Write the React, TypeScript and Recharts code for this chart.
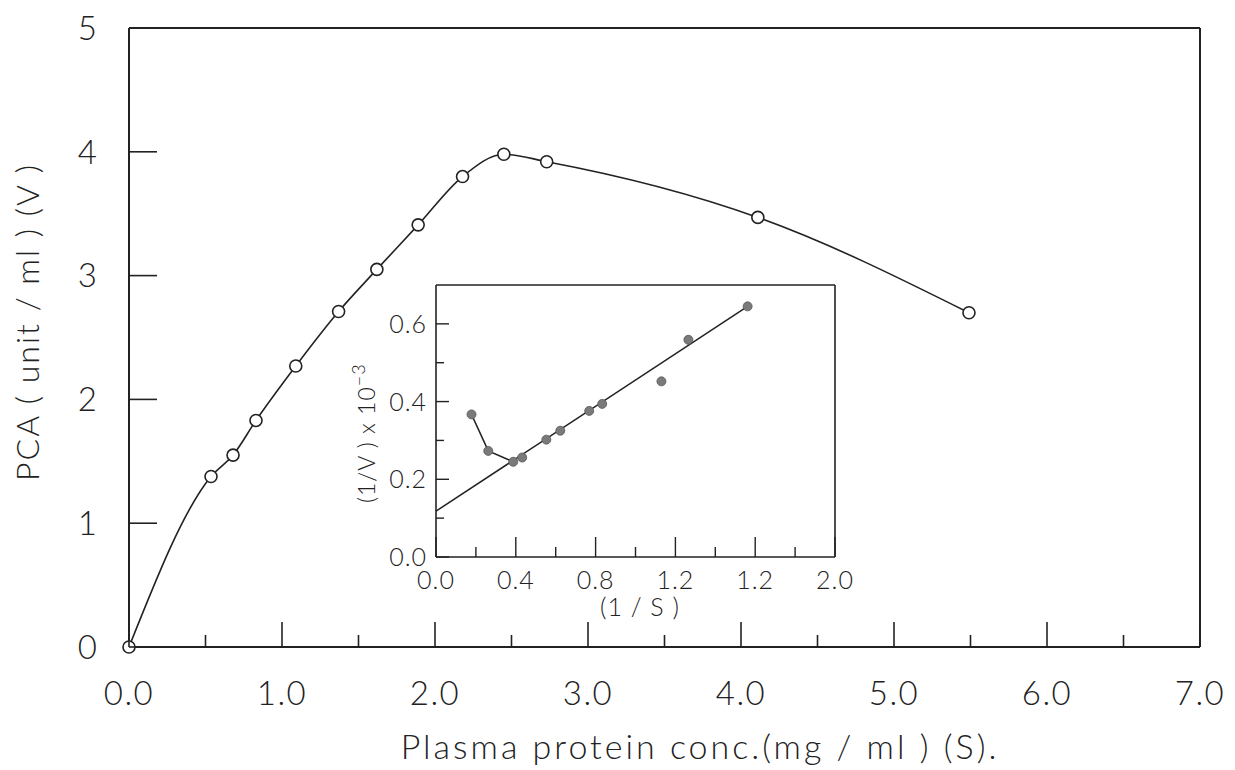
import { ComposedChart, Line, Scatter, XAxis, YAxis, ReferenceLine } from "recharts";

// main curve: protein conc (S) vs PCA (V)
const conc = [0, 0.536, 0.68, 0.83, 1.09, 1.37, 1.62, 1.89, 2.18, 2.45, 2.73, 4.11, 5.49];
const pca = [0, 1.377, 1.55, 1.83, 2.27, 2.71, 3.05, 3.41, 3.8, 3.98, 3.92, 3.47, 2.7];

const mainXTicks = [0, 0.5, 1, 1.5, 2, 2.5, 3, 3.5, 4, 4.5, 5, 5.5, 6, 6.5, 7];
const mainYTicks = [0, 1, 2, 3, 4, 5];

// inset: double reciprocal plot
const invS = [0.178, 0.262, 0.387, 0.432, 0.553, 0.623, 0.768, 0.833, 1.13, 1.265, 1.562];
const invV = [0.367, 0.273, 0.245, 0.256, 0.302, 0.325, 0.376, 0.394, 0.452, 0.559, 0.645];
const curveCount = 3; // first points joined by a bent line
const fitX = [0, 1.562];
const fitY = [0.118, 0.645];

const insetXTicks = [0, 0.2, 0.4, 0.6, 0.8, 1.0, 1.2, 1.4, 1.6, 1.8, 2.0];
const insetXMajor = [0, 0.4, 0.8, 1.2, 1.6, 2.0];
const insetXLabels = ["0.0", "0.4", "0.8", "1.2", "1.2", "2.0"];
const insetYTicks = [0, 0.1, 0.2, 0.3, 0.4, 0.5, 0.6];
const insetYMajor = [0, 0.2, 0.4, 0.6];
const insetYLabels = ["0.0", "0.2", "0.4", "0.6"];

const INK = "#222";
const FONT = "Lato, 'Open Sans', sans-serif";

const mainData = conc.map((x, i) => ({ x, y: pca[i] }));
const insetData = invS.map((x, i) => ({ x, y: invV[i] }));
const bendData = insetData.slice(0, curveCount);
const fitData = fitX.map((x, i) => ({ x, y: fitY[i] }));

const near = (a: number, b: number) => Math.abs(a - b) < 1e-6;

function MainXTick({ x, y, payload }: any) {
  const v = payload.value;
  const major = near(v, Math.round(v));
  return (
    <g>
      <line x1={x} x2={x} y1={y} y2={y - (major ? 25 : 12)} stroke={INK} strokeWidth={1.6} />
      {major && (
        <text x={x} y={y + 58} textAnchor="middle" fontFamily={FONT} fontWeight={300} fontSize={33} letterSpacing={1.5} fill={INK}>
          {v.toFixed(1)}
        </text>
      )}
    </g>
  );
}

function MainYTick({ x, y, payload }: any) {
  return (
    <g>
      <line x1={x} x2={x + 28} y1={y} y2={y} stroke={INK} strokeWidth={1.6} />
      <text x={x - 32} y={y} dy="0.36em" textAnchor="end" fontFamily={FONT} fontWeight={300} fontSize={33} fill={INK}>
        {payload.value}
      </text>
    </g>
  );
}

function InsetXTick({ x, y, payload }: any) {
  const idx = insetXMajor.findIndex((m) => near(m, payload.value));
  const major = idx >= 0;
  return (
    <g>
      <line x1={x} x2={x} y1={y} y2={y - (major ? 20 : 10)} stroke={INK} strokeWidth={1.4} />
      {major && (
        <text x={x} y={y + 32} textAnchor="middle" fontFamily={FONT} fontWeight={300} fontSize={25} letterSpacing={1} fill={INK}>
          {insetXLabels[idx]}
        </text>
      )}
    </g>
  );
}

function InsetYTick({ x, y, payload }: any) {
  const idx = insetYMajor.findIndex((m) => near(m, payload.value));
  const major = idx >= 0;
  return (
    <g>
      <line x1={x} x2={x + (major ? 13 : 8)} y1={y} y2={y} stroke={INK} strokeWidth={1.4} />
      {major && (
        <text x={x - 9} y={y} dy="0.36em" textAnchor="end" fontFamily={FONT} fontWeight={300} fontSize={25} letterSpacing={1} fill={INK}>
          {insetYLabels[idx]}
        </text>
      )}
    </g>
  );
}

const OpenDot = (p: any) =>
  p.cx == null ? null : <circle cx={p.cx} cy={p.cy} r={6} fill="#fff" stroke={INK} strokeWidth={1.6} />;

const FilledDot = (p: any) =>
  p.cx == null ? null : <circle cx={p.cx} cy={p.cy} r={4.5} fill="#7a7a7a" stroke="#555" strokeWidth={0.8} />;

export default function App() {
  return (
    <div style={{ position: "absolute", left: 0, top: 0, width: 1235, height: 770, background: "#fff" }}>
      <ComposedChart width={1235} height={770} margin={{ top: 28, right: 35, bottom: 0, left: 0 }}>
        <XAxis
          dataKey="x"
          type="number"
          domain={[0, 7]}
          ticks={mainXTicks}
          interval={0}
          height={123}
          tickSize={0}
          tickMargin={0}
          tickLine={false}
          axisLine={{ stroke: INK, strokeWidth: 2 }}
          tick={<MainXTick />}
          label={{
            content: () => (
              <text x={700} y={759} textAnchor="middle" fontFamily={FONT} fontWeight={300} fontSize={34} letterSpacing={3} fill={INK}>
                Plasma protein conc.(mg / ml ) (S).
              </text>
            ),
          }}
        />
        <YAxis
          dataKey="y"
          type="number"
          domain={[0, 5]}
          ticks={mainYTicks}
          interval={0}
          width={129}
          tickSize={0}
          tickMargin={0}
          tickLine={false}
          axisLine={{ stroke: INK, strokeWidth: 2 }}
          tick={<MainYTick />}
          label={{
            content: () => (
              <text
                x={39}
                y={322}
                transform="rotate(-90 39 322)"
                textAnchor="middle"
                fontFamily={FONT}
                fontWeight={300}
                fontSize={32}
                letterSpacing={2}
                fill={INK}
              >
                PCA ( unit / ml ) (V )
              </text>
            ),
          }}
        />
        <ReferenceLine y={5} stroke={INK} strokeWidth={2} />
        <ReferenceLine x={7} stroke={INK} strokeWidth={2} />
        <Line
          data={mainData}
          dataKey="y"
          type="monotone"
          stroke={INK}
          strokeWidth={1.6}
          dot={<OpenDot />}
          activeDot={false}
          isAnimationActive={false}
        />
      </ComposedChart>

      <div style={{ position: "absolute", left: 330, top: 270 }}>
        <ComposedChart width={530} height={360} margin={{ top: 15, right: 25, bottom: 0, left: 0 }}>
          <XAxis
            dataKey="x"
            type="number"
            domain={[0, 2]}
            ticks={insetXTicks}
            interval={0}
            height={73}
            tickSize={0}
            tickMargin={0}
            tickLine={false}
            axisLine={{ stroke: INK, strokeWidth: 1.6 }}
            tick={<InsetXTick />}
            label={{
              content: () => (
                <text x={310} y={346} textAnchor="middle" fontFamily={FONT} fontWeight={300} fontSize={25} letterSpacing={1} fill={INK}>
                  (1 / S )
                </text>
              ),
            }}
          />
          <YAxis
            dataKey="y"
            type="number"
            domain={[0, 0.7]}
            ticks={insetYTicks}
            interval={0}
            width={106}
            tickSize={0}
            tickMargin={0}
            tickLine={false}
            axisLine={{ stroke: INK, strokeWidth: 1.6 }}
            tick={<InsetYTick />}
            label={{
              content: () => (
                <text
                  x={45}
                  y={233}
                  transform="rotate(-90 45 233)"
                  textAnchor="start"
                  fontFamily={FONT}
                  fontWeight={300}
                  fontSize={23}
                  letterSpacing={1}
                  fill={INK}
                >
                  (1/V ) x 10
                  <tspan dy="-0.55em" fontSize={18}>−3</tspan>
                </text>
              ),
            }}
          />
          <ReferenceLine y={0.7} stroke={INK} strokeWidth={1.6} />
          <ReferenceLine x={2} stroke={INK} strokeWidth={1.6} />
          <Line
            data={fitData}
            dataKey="y"
            type="linear"
            stroke={INK}
            strokeWidth={1.5}
            dot={false}
            activeDot={false}
            isAnimationActive={false}
          />
          <Line
            data={bendData}
            dataKey="y"
            type="linear"
            stroke={INK}
            strokeWidth={1.5}
            dot={false}
            activeDot={false}
            isAnimationActive={false}
          />
          <Scatter data={insetData} dataKey="y" shape={<FilledDot />} isAnimationActive={false} />
        </ComposedChart>
      </div>
    </div>
  );
}
